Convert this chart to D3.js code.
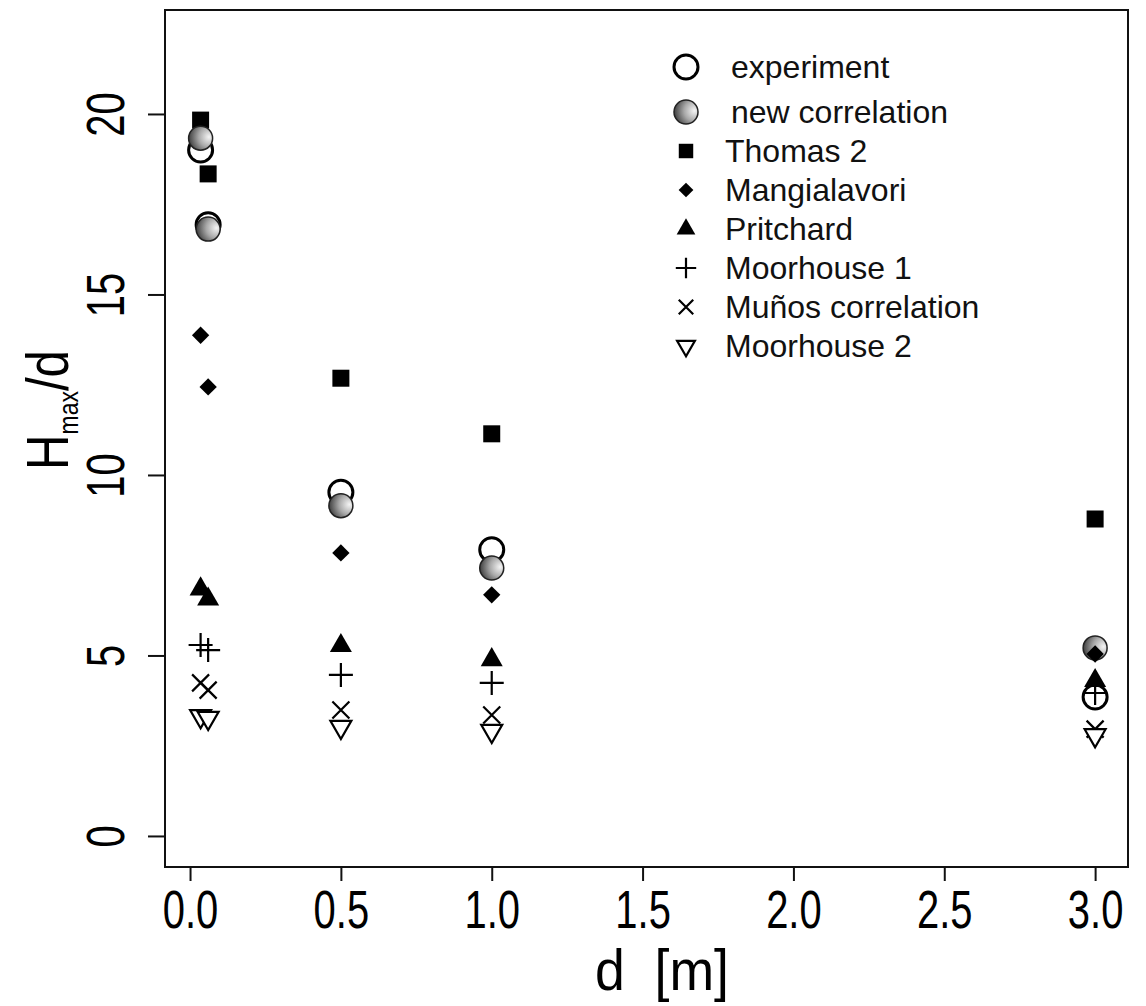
<!DOCTYPE html>
<html>
<head>
<meta charset="utf-8">
<style>
body { margin: 0; background: #fff; }
svg { font-family: "Liberation Sans", Arial, sans-serif; }
.axis path, .axis line { stroke: #111; stroke-width: 2px; }
</style>
</head>
<body>
<div id="chart"></div>
<script src="https://d3js.org/d3.v7.min.js"></script>
<script>
// values
var xTicks = [0, 0.5, 1.0, 1.5, 2.0, 2.5, 3.0];
var yTicks = [0, 5, 10, 15, 20];
var dVals = [0.035, 0.06, 0.5, 1.0, 3.0];

var names = ["experiment", "new correlation", "Thomas 2", "Mangialavori",
             "Pritchard", "Moorhouse 1", "Muños correlation", "Moorhouse 2"];
var experiment = [19.0, 16.93, 9.52, 7.93, 3.85];
var newCorr = [19.33, 16.81, 9.15, 7.42, 5.21];
var thomas2 = [19.83, 18.34, 12.68, 11.14, 8.78];
var mangialavori = [13.87, 12.44, 7.84, 6.68, 5.04];
var pritchard = [6.84, 6.56, 5.27, 4.88, 4.3];
var moorhouse1 = [5.29, 5.15, 4.46, 4.24, 3.96];
var munos = [4.24, 4.04, 3.49, 3.35, 2.96];
var moorhouse2 = [3.32, 3.27, 3.02, 2.91, 2.79];

var series = [experiment, newCorr, thomas2, mangialavori, pritchard, moorhouse1, munos, moorhouse2];
var kinds = ["open", "grad", "square", "diamond", "tri", "plus", "cross", "down"];
// draw order: square under the circles, the rest on top
var drawOrder = [2, 0, 1, 3, 4, 5, 6, 7];

var width = 1146, height = 1006;
var boxL = 165, boxR = 1128, boxT = 10, boxB = 867;

var svg = d3.select("#chart").append("svg")
    .attr("width", width)
    .attr("height", height);

var defs = svg.append("defs");
var grad = defs.append("radialGradient")
    .attr("id", "ball")
    .attr("cx", "85%").attr("cy", "45%").attr("r", "95%");
grad.append("stop").attr("offset", "0%").attr("stop-color", "#f4f4f4");
grad.append("stop").attr("offset", "45%").attr("stop-color", "#a8a8a8");
grad.append("stop").attr("offset", "100%").attr("stop-color", "#262626");

var x = d3.scaleLinear().domain([-0.083, 3.109]).range([boxL, boxR]);
var y = d3.scaleLinear().domain([-0.86, 22.88]).range([boxB, boxT]);

// box
svg.append("rect")
    .attr("x", boxL).attr("y", boxT)
    .attr("width", boxR - boxL).attr("height", boxB - boxT)
    .attr("fill", "none").attr("stroke", "#111").attr("stroke-width", 2);

// x axis
var gx = svg.append("g")
    .attr("class", "axis")
    .attr("transform", "translate(0," + boxB + ")")
    .call(d3.axisBottom(x).tickValues(xTicks).tickSize(14).tickSizeOuter(0)
        .tickFormat(d3.format(".1f")));
gx.select(".domain").remove();
gx.selectAll("text")
    .attr("y", 0).attr("dy", null)
    .attr("fill", "#000")
    .attr("font-size", 54)
    .attr("transform", "translate(0,61) scale(0.74,1)");

// y axis
var gy = svg.append("g")
    .attr("class", "axis")
    .attr("transform", "translate(" + boxL + ",0)")
    .call(d3.axisLeft(y).tickValues(yTicks).tickSize(17).tickSizeOuter(0));
gy.select(".domain").remove();
gy.selectAll("text")
    .attr("x", 0).attr("y", 0).attr("dy", null)
    .attr("fill", "#000")
    .attr("font-size", 54)
    .attr("text-anchor", "middle")
    .attr("transform", "translate(-41,0) rotate(-90) scale(0.74,1)");

// axis titles
svg.append("text")
    .attr("x", 662).attr("y", 990)
    .attr("text-anchor", "middle")
    .attr("font-size", 57)
    .attr("xml:space", "preserve")
    .attr("transform", "translate(662,0) scale(0.94,1) translate(-662,0)")
    .text("d  [m]");

var yt = svg.append("text")
    .attr("text-anchor", "middle")
    .attr("font-size", 60)
    .attr("transform", "translate(68,410) rotate(-90) scale(0.82,1)");
yt.append("tspan").text("H");
yt.append("tspan").attr("font-size", 28).attr("dy", 10).text("max");
yt.append("tspan").attr("dy", -10).text("/d");

// marker drawing
function marker(g, kind, cx, cy, s) {
    if (kind === "open") {
        g.append("circle").attr("cx", cx).attr("cy", cy).attr("r", 12 * s)
            .attr("fill", "none").attr("stroke", "#000").attr("stroke-width", 3);
    } else if (kind === "grad") {
        g.append("circle").attr("cx", cx).attr("cy", cy).attr("r", 12 * s)
            .attr("fill", "url(#ball)").attr("stroke", "#222").attr("stroke-width", 1.5);
    } else if (kind === "square") {
        g.append("rect").attr("x", cx - 8.5 * s).attr("y", cy - 8.5 * s)
            .attr("width", 17 * s).attr("height", 17 * s).attr("fill", "#000");
    } else if (kind === "diamond") {
        g.append("path")
            .attr("d", d3.symbol(d3.symbolSquare, 150 * s * s)())
            .attr("transform", "translate(" + cx + "," + cy + ") rotate(45)")
            .attr("fill", "#000");
    } else if (kind === "tri") {
        g.append("path").attr("transform", "translate(" + cx + "," + cy + ")")
            .attr("d", d3.symbol(d3.symbolTriangle, 210 * s * s)()).attr("fill", "#000");
    } else if (kind === "plus") {
        var a = 12 * s;
        g.append("path").attr("d", "M" + (cx - a) + "," + cy + "H" + (cx + a) +
            "M" + cx + "," + (cy - a) + "V" + (cy + a))
            .attr("stroke", "#000").attr("stroke-width", 2.2).attr("fill", "none");
    } else if (kind === "cross") {
        var b = 8.5 * s;
        g.append("path").attr("d", "M" + (cx - b) + "," + (cy - b) + "L" + (cx + b) + "," + (cy + b) +
            "M" + (cx + b) + "," + (cy - b) + "L" + (cx - b) + "," + (cy + b))
            .attr("stroke", "#000").attr("stroke-width", 2.2).attr("fill", "none");
    } else if (kind === "down") {
        g.append("path").attr("transform", "translate(" + cx + "," + cy + ") rotate(180)")
            .attr("d", d3.symbol(d3.symbolTriangle, 190 * s * s)())
            .attr("fill", "#fff").attr("stroke", "#000").attr("stroke-width", 2.2);
    }
}

var pts = svg.append("g");
drawOrder.forEach(function(k) {
    series[k].forEach(function(v, i) {
        marker(pts, kinds[k], x(dVals[i]), y(v), 1);
    });
});

// legend
var legend = svg.append("g").attr("font-size", 32);
names.forEach(function(n, i) {
    var ly = i === 0 ? 67 : 112 + (i - 1) * 39;
    var s = (i < 2) ? 1 : 0.85;
    marker(legend, kinds[i], 686, ly, s);
    legend.append("text")
        .attr("x", i < 2 ? 731 : 725)
        .attr("y", ly)
        .attr("dy", "0.35em")
        .attr("fill", "#111")
        .text(n);
});
</script>
</body>
</html>
